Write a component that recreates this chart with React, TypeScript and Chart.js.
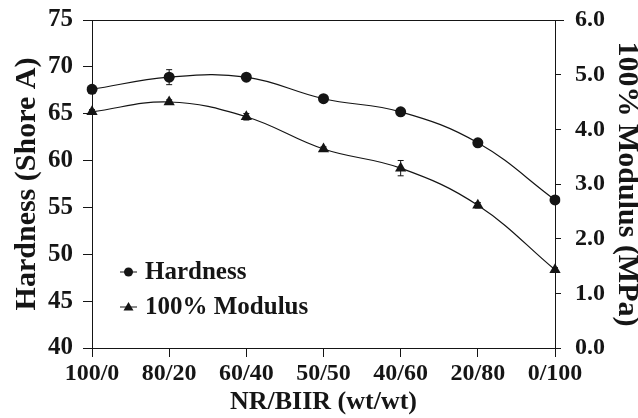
import React, { useEffect, useRef } from "react";
import { Chart, registerables } from "chart.js";

Chart.register(...registerables);

const categories = ["100/0", "80/20", "60/40", "50/50", "40/60", "20/80", "0/100"];
const hardness = [67.6, 68.9, 68.9, 66.6, 65.2, 61.9, 55.8];
const hardnessErr = [0.3, 0.8, 0.2, 0.2, 0.2, 0.2, 0.3];
const modulus = [4.32, 4.5, 4.23, 3.64, 3.29, 2.61, 1.43];
const modulusErr = [0.04, 0.04, 0.06, 0.04, 0.14, 0.05, 0.04];
const leftTicks = [40, 45, 50, 55, 60, 65, 70, 75];
const rightTicks = [0, 1, 2, 3, 4, 5, 6];

const FONT = "'Liberation Serif', 'Times New Roman', serif";
const INK = "#151515";

const errorBarPlugin = {
  id: "errorBars",
  afterDatasetsDraw(chart: any) {
    const ctx = chart.ctx;
    const errs = [hardnessErr, modulusErr];
    chart.data.datasets.forEach((ds: any, di: number) => {
      const meta = chart.getDatasetMeta(di);
      const yScale = chart.scales[ds.yAxisID];
      meta.data.forEach((pt: any, i: number) => {
        const v = ds.data[i];
        const e = errs[di][i];
        const x = pt.x;
        const y1 = yScale.getPixelForValue(v + e);
        const y2 = yScale.getPixelForValue(v - e);
        ctx.save();
        ctx.strokeStyle = INK;
        ctx.lineWidth = 1;
        ctx.beginPath();
        ctx.moveTo(x, y1);
        ctx.lineTo(x, y2);
        ctx.moveTo(x - 3, y1);
        ctx.lineTo(x + 3, y1);
        ctx.moveTo(x - 3, y2);
        ctx.lineTo(x + 3, y2);
        ctx.stroke();
        ctx.restore();
      });
    });
  },
};

const framePlugin = {
  id: "frame",
  afterDraw(chart: any) {
    const { ctx, chartArea } = chart;
    ctx.save();
    ctx.strokeStyle = INK;
    ctx.lineWidth = 1;
    ctx.beginPath();
    ctx.moveTo(chartArea.left - 9, chartArea.top + 0.5);
    ctx.lineTo(chartArea.right + 9, chartArea.top + 0.5);
    ctx.stroke();

    // legend
    const lx = chartArea.left + 28;
    const items = [
      { label: "Hardness", y: chartArea.top + 252, shape: "circle" },
      { label: "100% Modulus", y: chartArea.top + 287, shape: "triangle" },
    ];
    items.forEach((it) => {
      ctx.beginPath();
      ctx.moveTo(lx, it.y);
      ctx.lineTo(lx + 17, it.y);
      ctx.stroke();
      ctx.fillStyle = INK;
      ctx.beginPath();
      const cx = lx + 8.5;
      if (it.shape === "circle") {
        ctx.arc(cx, it.y, 4.5, 0, Math.PI * 2);
      } else {
        ctx.moveTo(cx, it.y - 5);
        ctx.lineTo(cx + 5, it.y + 3.5);
        ctx.lineTo(cx - 5, it.y + 3.5);
        ctx.closePath();
      }
      ctx.fill();
      ctx.font = `bold 25px ${FONT}`;
      ctx.textBaseline = "middle";
      ctx.textAlign = "left";
      ctx.fillText(it.label, lx + 25, it.y + 1);
    });
    ctx.restore();
  },
};

function zeroPad(w?: number, h?: number) {
  return (scale: any) => {
    if (w !== undefined) scale.width = w;
    if (h !== undefined) scale.height = h;
    scale.paddingTop = 0;
    scale.paddingBottom = 0;
    scale.paddingLeft = 0;
    scale.paddingRight = 0;
  };
}

export default function App() {
  const ref = useRef<HTMLCanvasElement>(null);

  useEffect(() => {
    document.body.style.margin = "0";
    const canvas = ref.current;
    if (!canvas) return;
    const chart = new Chart(canvas, {
      type: "line",
      data: {
        labels: categories,
        datasets: [
          {
            label: "Hardness",
            data: hardness,
            yAxisID: "y",
            borderColor: INK,
            backgroundColor: INK,
            borderWidth: 1.2,
            tension: 0.4,
            pointStyle: "circle",
            pointRadius: 5.5,
            pointBackgroundColor: INK,
            pointBorderColor: INK,
            pointBorderWidth: 0,
            fill: false,
          },
          {
            label: "100% Modulus",
            data: modulus,
            yAxisID: "y1",
            borderColor: INK,
            backgroundColor: INK,
            borderWidth: 1.2,
            tension: 0.4,
            pointStyle: "triangle",
            pointRadius: 6.5,
            pointBackgroundColor: INK,
            pointBorderColor: INK,
            pointBorderWidth: 0,
            fill: false,
          },
        ],
      },
      options: {
        responsive: false,
        animation: false,
        layout: { padding: { top: 20, left: 0, right: 0, bottom: 0 } },
        plugins: {
          legend: { display: false },
          tooltip: { enabled: false },
        },
        scales: {
          x: {
            type: "category",
            offset: false,
            afterFit: zeroPad(undefined, 70),
            border: { display: true, color: INK, width: 1 },
            grid: {
              drawOnChartArea: false,
              drawTicks: true,
              tickLength: 9,
              color: INK,
            },
            ticks: {
              color: INK,
              font: { family: FONT, size: 24, weight: "bold" },
              padding: 2,
              maxRotation: 0,
              autoSkip: false,
            },
            title: {
              display: true,
              text: "NR/BIIR (wt/wt)",
              color: INK,
              font: { family: FONT, size: 26, weight: "bold", lineHeight: 1.2 },
              padding: 0,
            },
          },
          y: {
            type: "linear",
            position: "left",
            min: 40,
            max: 75,
            afterFit: zeroPad(92),
            afterBuildTicks: (scale: any) => {
              scale.ticks = leftTicks.map((v) => ({ value: v }));
            },
            border: { display: true, color: INK, width: 1 },
            grid: {
              drawOnChartArea: false,
              drawTicks: true,
              tickLength: 9,
              color: INK,
            },
            ticks: {
              color: INK,
              font: { family: FONT, size: 25, weight: "bold" },
              padding: 10,
            },
            title: {
              display: true,
              text: "Hardness (Shore A)",
              color: INK,
              font: { family: FONT, size: 30, weight: "bold", lineHeight: 1.2 },
              padding: { top: 9, bottom: 0 },
            },
          },
          y1: {
            type: "linear",
            position: "right",
            min: 0,
            max: 6,
            afterFit: zeroPad(83),
            afterBuildTicks: (scale: any) => {
              scale.ticks = rightTicks.map((v) => ({ value: v }));
            },
            border: { display: true, color: INK, width: 1 },
            grid: {
              drawOnChartArea: false,
              drawTicks: true,
              tickLength: 6,
              color: INK,
            },
            ticks: {
              color: INK,
              font: { family: FONT, size: 24, weight: "bold" },
              padding: 14,
              callback: (v: any) => Number(v).toFixed(1),
            },
            title: {
              display: true,
              text: "100% Modulus (MPa)",
              color: INK,
              font: { family: FONT, size: 30, weight: "bold", lineHeight: 0.75 },
              padding: 0,
            },
          },
        },
      },
      plugins: [errorBarPlugin, framePlugin],
    } as any);
    return () => chart.destroy();
  }, []);

  return (
    <div style={{ position: "relative", width: 638, height: 418, background: "#fff" }}>
      <canvas ref={ref} width={638} height={418} style={{ display: "block" }} />
    </div>
  );
}
